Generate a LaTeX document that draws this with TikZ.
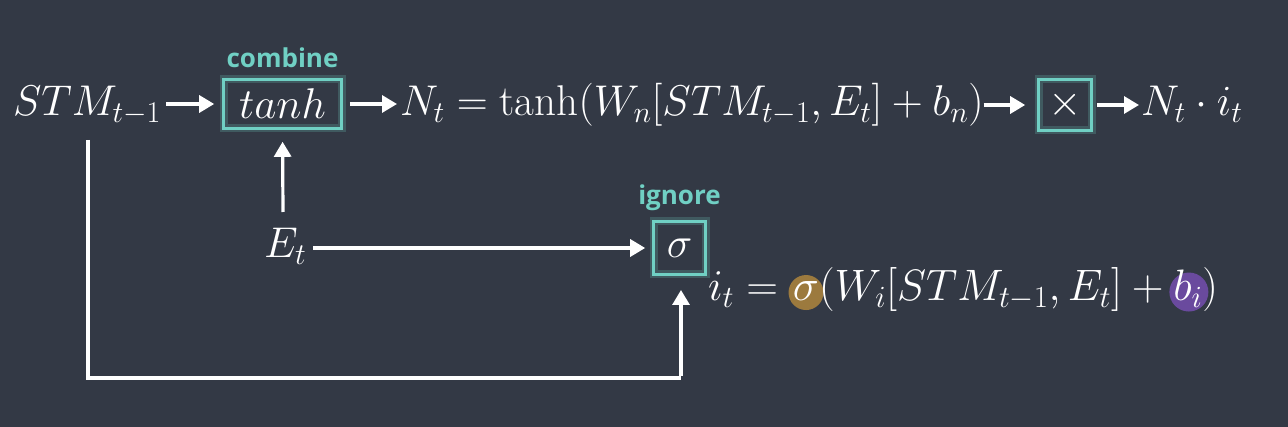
\RequirePackage{fix-cm}
\documentclass[tikz,border=0pt]{standalone}
\usepackage{fontspec}
\newfontfamily\labelfont{Open Sans}
\usetikzlibrary{arrows.meta}
\definecolor{bgc}{RGB}{51,57,69}
\definecolor{tealc}{RGB}{112,208,196}
\definecolor{goldc}{RGB}{156,122,62}
\definecolor{purpc}{RGB}{106,74,158}
\pgfdeclarelayer{back}
\pgfdeclarelayer{mid}
\pgfsetlayers{back,mid,main}
\begin{document}
\begin{tikzpicture}[x=1pt,y=-1pt,
  txt/.style={text=white, font=\fontsize{43}{51}\selectfont, inner sep=0pt, outer sep=0pt},
  btxt/.style={txt, font=\fontsize{44}{52}\selectfont},
  opbox/.style={draw=tealc, line width=2.6pt, inner sep=0pt, text=white,
    font=\fontsize{43}{51}\selectfont,
    preaction={draw=tealc, line width=8pt, draw opacity=0.22}},
  lbl/.style={text=tealc, font=\labelfont\bfseries\fontsize{26}{30}\selectfont, inner sep=0pt},
  arr/.style={draw=white, line width=3.2pt, -{Triangle[length=15pt,width=17pt]}},
  wire/.style={draw=white, line width=3.2pt}]
\begin{pgfonlayer}{back}
\fill[bgc] (0,0) rectangle (1288,427);
\end{pgfonlayer}
\useasboundingbox (0,0) rectangle (1288,427);

% top row
\node[txt, anchor=base west] (stm) at (13,116) {$STM_{t-1}$};
\node[opbox, minimum width=118pt, minimum height=49pt] (tanh) at (282.5,104) {$tanh$};
\node[lbl, anchor=base] (comb) at ([yshift=11pt]tanh.north) {combine};
\node[txt, anchor=base west] (nt) at (400,116) {$N_t = \tanh(W_n[STM_{t-1}, E_t] + b_n)$};
\node[opbox, minimum width=53pt, minimum height=51pt] (mul) at (1065,105) {$\times$};
\node[txt, anchor=base west] (out) at (1141,116) {$N_t \cdot i_t$};

% second row
\node[txt, anchor=base west] (et) at (264,258) {$E_t$};
\node[opbox, minimum width=52pt, minimum height=53pt] (sig) at (679.5,248) {$\sigma$};
\node[lbl, anchor=base] (ign) at ([yshift=16pt]sig.north) {ignore};

% i_t formula
\node[btxt, anchor=base west] (ia) at (708,301) {$i_t ={}$};
\node[btxt, anchor=base west] (isg) at ([xshift=0.278em]ia.base east) {$\sigma$};
\node[btxt, anchor=base west] (ib) at (isg.base east) {$(W_i[STM_{t-1}, E_t] + {}$};
\node[btxt, anchor=base west] (bi) at (ib.base east) {$b_i$};
\node[btxt, anchor=base west] (ic) at (bi.base east) {$)$};
\begin{pgfonlayer}{mid}
\fill[goldc] ([yshift=-1pt]isg.center) circle (17.5pt);
\fill[purpc] ([xshift=1pt,yshift=-3pt]bi.center) circle (19.5pt);
\end{pgfonlayer}

% connectors
\draw[arr, shorten <=5pt, shorten >=8pt] (stm.east |- tanh.west) -- (tanh.west);
\draw[arr, shorten <=7pt, shorten >=3pt] (tanh.east) -- (nt.west |- tanh.east);
\draw[arr, shorten >=12pt] (nt.east |- mul.west) -- (mul.west);
\draw[arr, shorten <=4pt, shorten >=2pt] (mul.east) -- (out.west |- mul.east);
\coordinate (up0) at (283,212);
\draw[arr, shorten >=12pt] (up0) -- (tanh.south);
\coordinate (e0) at (313,248);
\draw[arr, shorten >=7pt] (e0) -- (sig.west);
\coordinate (s0) at (88,140);
\coordinate (s1) at (88,378);
\coordinate (s2) at (681,378);
\coordinate (s3) at (681,290);
\draw[wire] (s0) -- (s1) -- (s2);
\draw[arr] ([yshift=1.6pt]s2) -- (s3);
\end{tikzpicture}
\end{document}
